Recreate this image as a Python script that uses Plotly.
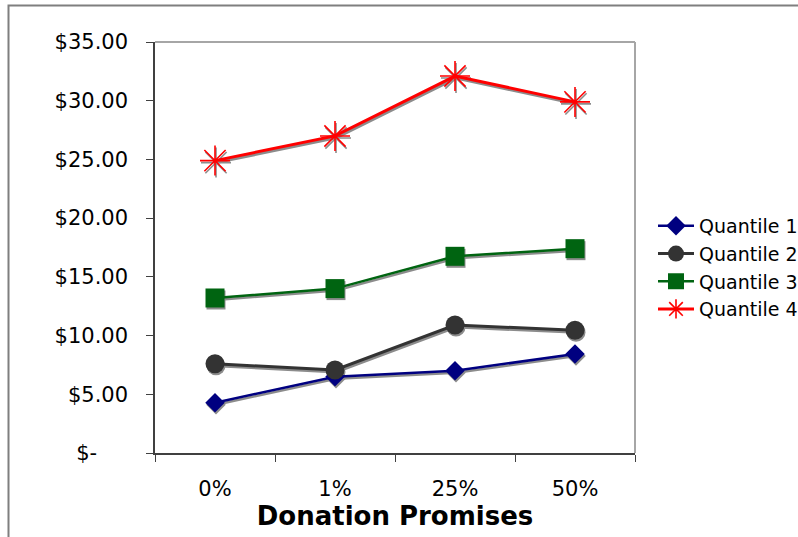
import plotly.graph_objects as go

# Average amount by donation promise level, one series per quantile
promises = ["0%", "1%", "25%", "50%"]
quantile_1 = [4.28, 6.50, 7.00, 8.43]
quantile_2 = [7.60, 7.07, 10.90, 10.45]
quantile_3 = [13.20, 14.00, 16.75, 17.40]
quantile_4 = [24.90, 27.00, 32.10, 29.90]

y_ticks = [0, 5, 10, 15, 20, 25, 30, 35]
# accounting-style labels: the zero entry keeps trailing padding
y_tick_text = ["$-\u2007\u2007\u2009", "$5.00", "$10.00", "$15.00",
               "$20.00", "$25.00", "$30.00", "$35.00"]

series = [
    ("Quantile 1", quantile_1, "#000080", "diamond", 15, 2.5),
    ("Quantile 2", quantile_2, "#333333", "circle", 19, 3),
    ("Quantile 3", quantile_3, "#006411", "square", 19, 2.5),
    ("Quantile 4", quantile_4, "#FF0000", "asterisk-open", 25, 3),
]

W, H = 798, 537
L, R, T, B = 155, 163, 42, 84
plot_w = W - L - R
plot_h = H - T - B

# drop shadow: same data drawn on hidden axes whose range is nudged
# by a couple of pixels right/down
sx, sy = 1.0, 2.0
x_per_px = 4.0 / plot_w
y_per_px = 35.0 / plot_h

fig = go.Figure()

SHADOW = "#8C8C8C"
for name, vals, color, sym, size, lw in series:
    mk = dict(symbol=sym, size=size, color=SHADOW)
    if sym == "asterisk-open":
        mk["line"] = dict(color=SHADOW, width=1.6)
    else:
        mk["line"] = dict(width=0)
    fig.add_trace(go.Scatter(
        x=promises, y=vals, mode="lines+markers", showlegend=False,
        line=dict(color=SHADOW, width=lw), marker=mk,
        xaxis="x", yaxis="y", hoverinfo="skip",
    ))

for name, vals, color, sym, size, lw in series:
    mk = dict(symbol=sym, size=size, color=color)
    if sym == "asterisk-open":
        mk["line"] = dict(color=color, width=1.6)
    else:
        mk["line"] = dict(width=0)
    fig.add_trace(go.Scatter(
        x=promises, y=vals, mode="lines+markers", name=name,
        line=dict(color=color, width=lw), marker=mk,
        xaxis="x2", yaxis="y2",
    ))

FONT = "DejaVu Sans, Verdana, sans-serif"

fig.update_layout(
    width=W, height=H,
    margin=dict(l=L, r=R, t=T, b=B, pad=0, autoexpand=False),
    paper_bgcolor="white", plot_bgcolor="white",
    font=dict(family=FONT, color="#000000"),
    showlegend=True,
    legend=dict(
        x=(653 - L) / plot_w, xanchor="left",
        y=1 - (207 - T) / plot_h, yanchor="top",
        font=dict(size=19, family=FONT, color="#000000"),
        bgcolor="rgba(0,0,0,0)", borderwidth=0,
        tracegroupgap=0, itemwidth=36,
    ),
    xaxis=dict(
        type="category", categoryorder="array", categoryarray=promises,
        range=[-0.5 - sx * x_per_px, 3.5 - sx * x_per_px],
        visible=False, fixedrange=True,
    ),
    yaxis=dict(
        range=[0 + sy * y_per_px, 35 + sy * y_per_px],
        visible=False, fixedrange=True,
    ),
    xaxis2=dict(
        overlaying="x", side="bottom",
        type="category", categoryorder="array", categoryarray=promises,
        range=[-0.5, 3.5],
        showline=True, linecolor="#404040", linewidth=1.5,
        ticks="outside", ticklen=7, tickwidth=1, tickcolor="#404040",
        tickson="boundaries", showgrid=False, zeroline=False,
        ticklabelstandoff=16,
        tickfont=dict(size=21, family=FONT, color="#000000"),
        title=dict(text="<b>Donation Promises</b>",
                   font=dict(size=26, family=FONT, color="#000000"),
                   standoff=0),
    ),
    yaxis2=dict(
        overlaying="y", side="left",
        range=[0, 35],
        tickvals=y_ticks, ticktext=y_tick_text,
        showline=True, linecolor="#404040", linewidth=1.5,
        ticks="outside", ticklen=7, tickwidth=1, tickcolor="#404040",
        showgrid=False, zeroline=False,
        ticklabelstandoff=14,
        tickfont=dict(size=21, family=FONT, color="#000000"),
    ),
    shapes=[
        # plot-area frame on the top and right
        dict(type="line", xref="paper", yref="paper", x0=0, x1=1, y0=1, y1=1,
             line=dict(color="#A6A6A6", width=2)),
        dict(type="line", xref="paper", yref="paper", x0=1, x1=1, y0=0, y1=1,
             line=dict(color="#A6A6A6", width=2)),
        # outer chart border
        dict(type="rect", xref="paper", yref="paper",
             x0=(8.5 - L) / plot_w, x1=(W + 20 - L) / plot_w,
             y0=-(H + 20 - T - plot_h) / plot_h, y1=1 + (T - 5.5) / plot_h,
             line=dict(color="#7F7F7F", width=2), layer="below"),
    ],
)

fig.write_html("out.html")
